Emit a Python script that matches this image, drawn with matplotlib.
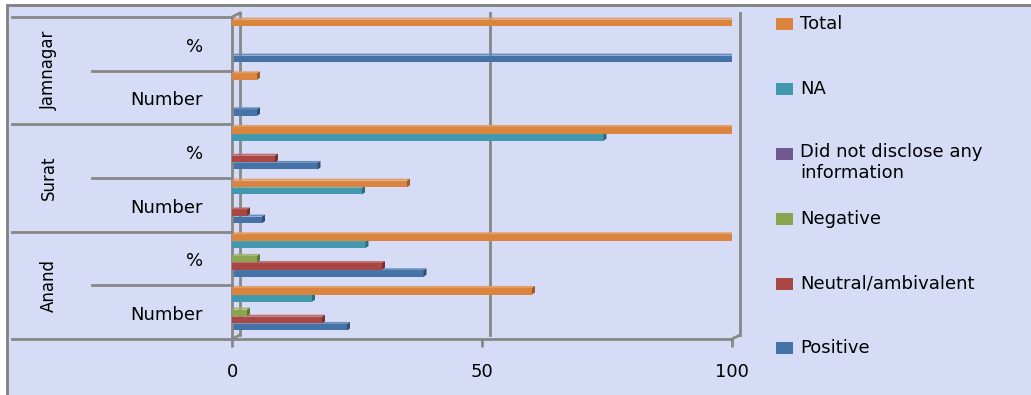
import matplotlib
matplotlib.use('Agg')
import matplotlib.pyplot as plt
from matplotlib.patches import Rectangle, Polygon
import numpy as np

# data (categories from bottom to top)
districts = ['Anand', 'Surat', 'Jamnagar']
sub_labels = ['Number', '%', 'Number', '%', 'Number', '%']
series = ['Positive', 'Neutral/ambivalent', 'Negative',
          'Did not disclose any\ninformation', 'NA', 'Total']
positive = [23, 38.3, 6, 17.1, 5, 100]
neutral = [18, 30, 3, 8.6, 0, 0]
negative = [3, 5, 0, 0, 0, 0]
not_disclosed = [0, 0, 0, 0, 0, 0]
na = [16, 26.7, 26, 74.3, 0, 0]
total = [60, 100, 35, 100, 5, 100]
xticks = [0, 50, 100]

values = [positive, neutral, negative, not_disclosed, na, total]
colors = ['#4572a7', '#aa4643', '#89a54e', '#71588f', '#4198af', '#db843d']

W, H = 1031, 395
grid_c = '#878787'
plt.rcParams['font.family'] = ['DejaVu Sans']

fig = plt.figure(figsize=(W / 100, H / 100), dpi=100)
fig.patch.set_facecolor('white')

# chart area with grey frame (left/top edges visible)
bg = Rectangle((7 / W, -0.02), 1.02, 1 - 5 / H + 0.02, transform=fig.transFigure,
               facecolor='#d6dcf5', edgecolor='#808080', lw=2, zorder=-5)
fig.add_artist(bg)

ax = fig.add_axes([232 / W, 1 - 339 / H, 500 / W, 322 / H])
ax.set_xlim(0, 100)
ax.set_ylim(-0.5, 5.5)
ax.patch.set_visible(False)
for s in ['top', 'right']:
    ax.spines[s].set_visible(False)
for s in ['left', 'bottom']:
    ax.spines[s].set_color(grid_c)
    ax.spines[s].set_linewidth(2)
ax.set_yticks([])
ax.set_xticks(xticks)
ax.tick_params(axis='x', length=6, width=2, color=grid_c, pad=11, labelsize=13)

# back wall (3d offset)
dxw, dyw = 1.6, 0.075
for v in xticks:
    ax.plot([v + dxw, v + dxw], [-0.5 + dyw, 5.5 + dyw], color=grid_c, lw=2,
            zorder=0.5, clip_on=False)
ax.plot([0, dxw], [5.5, 5.5 + dyw], color=grid_c, lw=2, clip_on=False)
ax.plot([0, dxw], [-0.5, -0.5 + dyw], color=grid_c, lw=2, clip_on=False)
ax.plot([100, 100 + dxw], [-0.5, -0.5 + dyw], color=grid_c, lw=2, clip_on=False)

# 3d bars
cats = np.arange(len(sub_labels))
step, h, off = 0.134, 0.122, 0.055
dx, dy = 0.6, 0.037


def shade(c, f):
    rgb = np.array(matplotlib.colors.to_rgb(c))
    if f < 1:
        return tuple(rgb * f)
    return tuple(rgb + (1 - rgb) * (f - 1))


for i, (vals, c) in enumerate(zip(values, colors)):
    ys = cats + (i - 2.5) * step + off
    z = 2 + i
    for y, v in zip(ys, vals):
        if v <= 0:
            continue
        ax.barh(y, v, height=h, color=c, zorder=z)
        top = Polygon([(0, y + h / 2), (v, y + h / 2), (v + dx, y + h / 2 + dy),
                       (dx, y + h / 2 + dy)], closed=True, facecolor=shade(c, 1.2),
                      edgecolor='none', zorder=z)
        side = Polygon([(v, y - h / 2), (v, y + h / 2), (v + dx, y + h / 2 + dy),
                        (v + dx, y - h / 2 + dy)], closed=True, facecolor=shade(c, 0.7),
                       edgecolor='none', zorder=z)
        ax.add_patch(top)
        ax.add_patch(side)

# multi-level category axis
tr = ax.get_yaxis_transform()
x_full = (12 - 232) / 500
x_inner = (92 - 232) / 500
for yb in [5.5, 3.5, 1.5, -0.5]:
    ax.plot([x_full, 0], [yb, yb], color=grid_c, lw=2, transform=tr, clip_on=False)
for yb in [4.5, 2.5, 0.5]:
    ax.plot([x_inner, 0], [yb, yb], color=grid_c, lw=2, transform=tr, clip_on=False)
for y, lab in zip(cats, sub_labels):
    ax.text((203 - 232) / 500, y - 0.05, lab, ha='right', va='center', fontsize=13,
            transform=tr)
for k, d in enumerate(districts):
    ax.text((49 - 232) / 500, 2 * k + 0.5, d, ha='center', va='center', fontsize=12,
            rotation=90, transform=tr)

# legend (top to bottom: Total ... Positive)
leg_y = [348, 284, 219, 154, 89, 24]
for name, c, yp in zip(series, colors, leg_y):
    fig.add_artist(Rectangle((776 / W, 1 - (yp + 6) / H), 17 / W, 12 / H,
                             transform=fig.transFigure, facecolor=c, edgecolor='none'))
    if '\n' in name:
        fig.text(800 / W, 1 - (yp - 11) / H, name, ha='left', va='top', fontsize=13,
                 linespacing=1.25)
    else:
        fig.text(800 / W, 1 - yp / H, name, ha='left', va='center', fontsize=13)

fig.savefig('out.png', dpi=100)
